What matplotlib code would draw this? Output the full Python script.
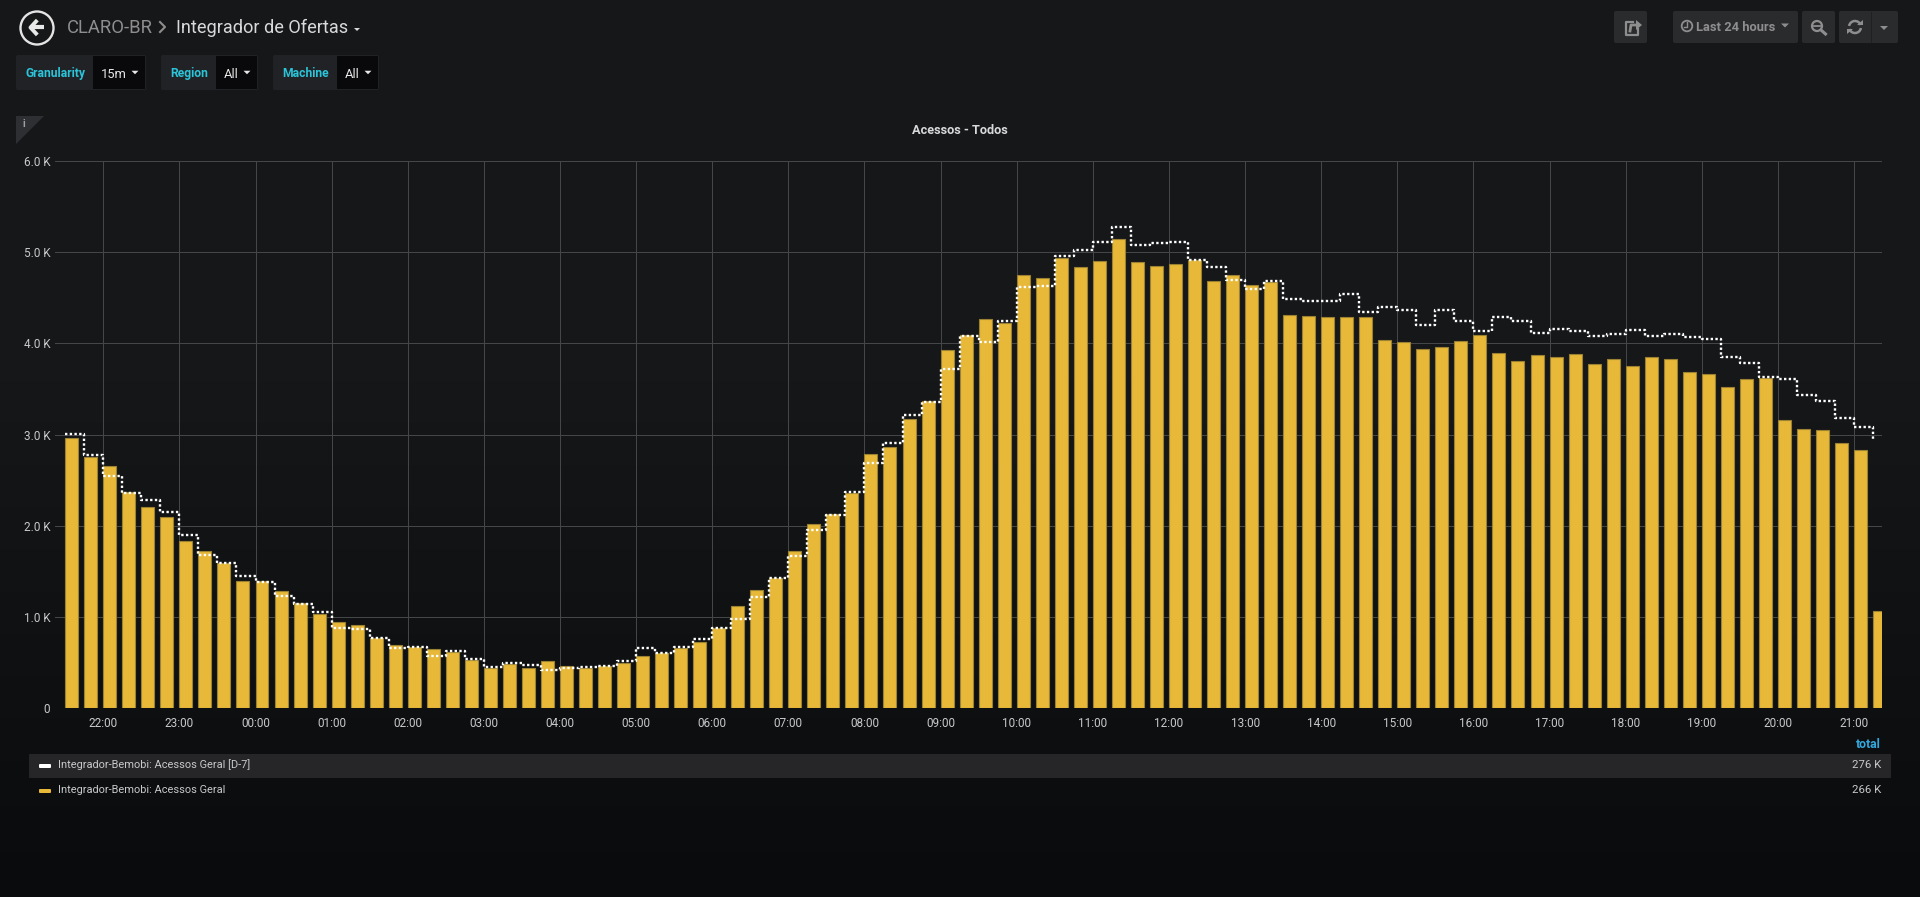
import matplotlib
matplotlib.use("Agg")
import numpy as np
from matplotlib import pyplot as plt
from matplotlib.patches import Circle, FancyBboxPatch, Polygon, Rectangle, Arc

plt.rcParams['font.family'] = ['Roboto', 'DejaVu Sans']

# values, one per 15 minutes, starting 21:30
acessos = [2962, 2750, 2651, 2366, 2212, 2095, 1832, 1722, 1590, 1400, 1400, 1283,
           1159, 1031, 943, 918, 768, 691, 669, 647, 614, 530, 446, 483,
           442, 516, 464, 439, 468, 497, 570, 611, 662, 731, 881, 1119,
           1302, 1433, 1726, 2018, 2135, 2362, 2791, 2865, 3168, 3374, 3930, 4097,
           4264, 4223, 4755, 4714, 4938, 4842, 4901, 5150, 4890, 4853, 4875, 4916,
           4681, 4747, 4645, 4678, 4311, 4304, 4289, 4289, 4286, 4040, 4015, 3938,
           3958, 4022, 4088, 3890, 3802, 3868, 3846, 3883, 3777, 3824, 3751, 3846,
           3824, 3692, 3663, 3524, 3608, 3626, 3165, 3062, 3051, 2908, 2835, 1070]
acessos_d7 = [3005, 2779, 2548, 2362, 2285, 2150, 1905, 1682, 1590, 1452, 1386, 1232,
              1148, 1057, 885, 870, 775, 662, 676, 578, 625, 541, 457, 494,
              475, 424, 442, 453, 464, 519, 658, 607, 673, 757, 881, 980,
              1221, 1433, 1671, 1956, 2121, 2366, 2688, 2908, 3216, 3363, 3718, 4081,
              4015, 4249, 4623, 4630, 4956, 5022, 5114, 5278, 5084, 5103, 5117, 4912,
              4839, 4696, 4601, 4685, 4484, 4469, 4462, 4546, 4348, 4399, 4370, 4205,
              4366, 4249, 4132, 4286, 4242, 4117, 4157, 4139, 4077, 4106, 4150, 4081,
              4106, 4073, 4048, 3853, 3784, 3637, 3615, 3436, 3370, 3183, 3084, 2940]
hour_labels = ['22:00', '23:00', '00:00', '01:00', '02:00', '03:00', '04:00', '05:00',
               '06:00', '07:00', '08:00', '09:00', '10:00', '11:00', '12:00', '13:00',
               '14:00', '15:00', '16:00', '17:00', '18:00', '19:00', '20:00', '21:00']
y_ticks = [0, 1000, 2000, 3000, 4000, 5000, 6000]
y_labels = ['0', '1.0 K', '2.0 K', '3.0 K', '4.0 K', '5.0 K', '6.0 K']
legend_names = ['Integrador-Bemobi: Acessos Geral [D-7]', 'Integrador-Bemobi: Acessos Geral']
legend_totals = ['276 K', '266 K']

W, H = 1920, 897
TEXT = '#d8d9da'
MUTED = '#8e8e8e'
CYAN = '#2bc4d8'
YELLOW = '#e8b838'

fig = plt.figure(figsize=(W / 100, H / 100), dpi=100)

# page background, and everything that is not the chart, in pixel coordinates
page = fig.add_axes([0, 0, 1, 1], zorder=0)
page.set_xlim(0, W)
page.set_ylim(H, 0)
page.axis('off')

rows = np.arange(H)
shade = np.stack([np.interp(rows, [0, 380, 760, 897], [a, a, b, c])
                  for a, b, c in [(0x16, 0x0d, 0x0a), (0x17, 0x0e, 0x0b), (0x19, 0x10, 0x0d)]], axis=1)
page.imshow(shade[:, None, :] / 255, extent=(0, W, H, 0), aspect='auto', zorder=0)


def txt(x, y, s, color=TEXT, size=8, ha='left', weight='normal', va='center'):
    page.text(x, y, s, color=color, fontsize=size, ha=ha, va=va, weight=weight, zorder=3)


def box(x0, y0, x1, y1, color, r=2):
    page.add_patch(FancyBboxPatch((x0 + r, y0 + r), x1 - x0 - 2 * r, y1 - y0 - 2 * r,
                                  boxstyle='round,pad=%d,rounding_size=%d' % (r, r),
                                  fc=color, ec='none', zorder=1))


def caret(x, y, color=TEXT, w=4):
    page.add_patch(Polygon([(x - w, y - w / 2), (x + w, y - w / 2), (x, y + w / 2)],
                           fc=color, ec='none', zorder=3))


# title row
page.add_patch(Circle((37, 28), 16.5, fc='none', ec='#e4e4e4', lw=1.7, zorder=3))
page.plot([31, 44], [27.5, 27.5], color='#e8e8e8', lw=3, solid_capstyle='butt', zorder=3)
page.plot([36, 30.5, 36], [21.5, 27.5, 33.5], color='#e8e8e8', lw=2.8, zorder=3)
txt(67, 28, 'CLARO-BR', MUTED, 13.3)
page.plot([160, 165, 160], [22, 27, 32], color=MUTED, lw=1.5, zorder=3)
txt(176, 28, 'Integrador de Ofertas', TEXT, 13.1)
caret(357, 29.5, TEXT, 3)

# template variable row
var_boxes = [(16, 93, 146, 'Granularity', '15m'),
             (161, 216, 258, 'Region', 'All'),
             (273, 337, 379, 'Machine', 'All')]
for x0, x1, x2, name, value in var_boxes:
    box(x0, 55, x2, 90, '#212226')
    page.add_patch(Rectangle((x1, 56), x2 - x1 - 1, 33, fc='#09090b', ec='none', zorder=2))
    txt(x0 + 9, 77, name, CYAN, 8.7, weight='bold', va='baseline')
    txt(x1 + 8, 78, value, '#e8e8e8', 9.3, va='baseline')
    caret(x2 - 11, 72.5, '#e8e8e8', 3.5)

# dashboard buttons on the right
BTN = '#2a2b2d'
ICON = '#8e8e8e'
box(1614, 11, 1647, 43, BTN)
box(1673, 11, 1798, 43, BTN)
box(1802, 11, 1835, 43, BTN)
box(1839, 11, 1898, 43, BTN)
page.plot([1871, 1871], [12, 42], color='#1f2022', lw=0.7, zorder=2)
# share icon
page.plot([1633, 1626, 1626, 1638, 1638], [22, 22, 35, 35, 29], color=ICON, lw=1.6, zorder=3)
page.plot([1630, 1631, 1637], [31, 25, 25], color=ICON, lw=2, zorder=3)
page.add_patch(Polygon([(1636, 20), (1642, 25), (1636, 30)], fc=ICON, ec='none', zorder=3))
# time picker
page.add_patch(Circle((1687, 26), 5.3, fc='none', ec=ICON, lw=1.3, zorder=3))
page.plot([1687, 1687, 1684], [22.5, 27, 27], color=ICON, lw=1, zorder=3)
txt(1696, 31, 'Last 24 hours', ICON, 9.3, weight='bold', va='baseline')
caret(1785, 25.5, ICON, 4)
# zoom out icon
page.add_patch(Circle((1817, 26), 5, fc='none', ec=ICON, lw=1.6, zorder=3))
page.plot([1814, 1820], [26, 26], color=ICON, lw=1.3, zorder=3)
page.plot([1821, 1825.5], [30, 34], color=ICON, lw=2.2, zorder=3)
# refresh icon
page.add_patch(Arc((1855, 27), 12, 12, theta1=190, theta2=340, ec=ICON, lw=1.8, zorder=3))
page.add_patch(Arc((1855, 27), 12, 12, theta1=10, theta2=160, ec=ICON, lw=1.8, zorder=3))
page.add_patch(Polygon([(1857, 25), (1863, 25), (1863, 20)], fc=ICON, ec='none', zorder=3))
page.add_patch(Polygon([(1847, 29), (1853, 29), (1847, 34)], fc=ICON, ec='none', zorder=3))
caret(1884, 28, ICON, 4)

# panel info corner
page.add_patch(Polygon([(16, 116), (44, 116), (16, 144)], fc='#2e2f33', ec='none', zorder=1))
txt(24, 124, 'i', '#a0a0a0', 7.5, ha='center', weight='bold')

# panel title
txt(960, 130, 'Acessos - Todos', TEXT, 9.2, ha='center', weight='bold')

# legend
page.add_patch(Rectangle((29, 754), 1862, 24, fc='#262628', ec='none', zorder=1))
txt(1881, 744, 'total', '#33a8dc', 8.8, ha='right', weight='bold')
for y, colour, name, total in zip([766, 791], ['#ffffff', YELLOW], legend_names, legend_totals):
    page.add_patch(FancyBboxPatch((40, y - 1), 10, 2, boxstyle='round,pad=1', fc=colour, ec='none', zorder=3))
    txt(58, y - 1, name, '#c8c9ca', 7.9)
    txt(1881, y - 1, total, '#c8c9ca', 8.2, ha='right')

# the chart: 19.03 px per 15 minute slot, first bar starts at x=65.2 px
left, right, top, bottom = 55, 1882, 161, 708.3
ax = fig.add_axes([left / W, 1 - bottom / H, (right - left) / W, (bottom - top) / H], zorder=1)
ax.patch.set_alpha(0)
slots = np.arange(len(acessos))
ax.set_xlim(-0.536, 95.47)
ax.set_ylim(0, 6000)

ax.bar(slots, acessos, width=0.683, align='edge', color=YELLOW, edgecolor='#9a8232',
       linewidth=0.8, zorder=2, clip_on=True)
ax.step(slots, acessos_d7, where='post', color='white', linewidth=1.7,
        linestyle=(0, (1, 1)), dash_capstyle='butt', zorder=3)

ax.set_xticks(slots[2::4], hour_labels)
ax.set_yticks(y_ticks, y_labels)
ax.tick_params(axis='both', length=0, labelsize=8.5, labelcolor='#c8c9ca')
ax.tick_params(axis='x', pad=6)
ax.tick_params(axis='y', pad=3.5)
ax.grid(True, color='#454648', linewidth=0.72, zorder=0)
ax.set_axisbelow(True)
for s in ax.spines.values():
    s.set_visible(False)

fig.savefig('out.png', dpi=100)
